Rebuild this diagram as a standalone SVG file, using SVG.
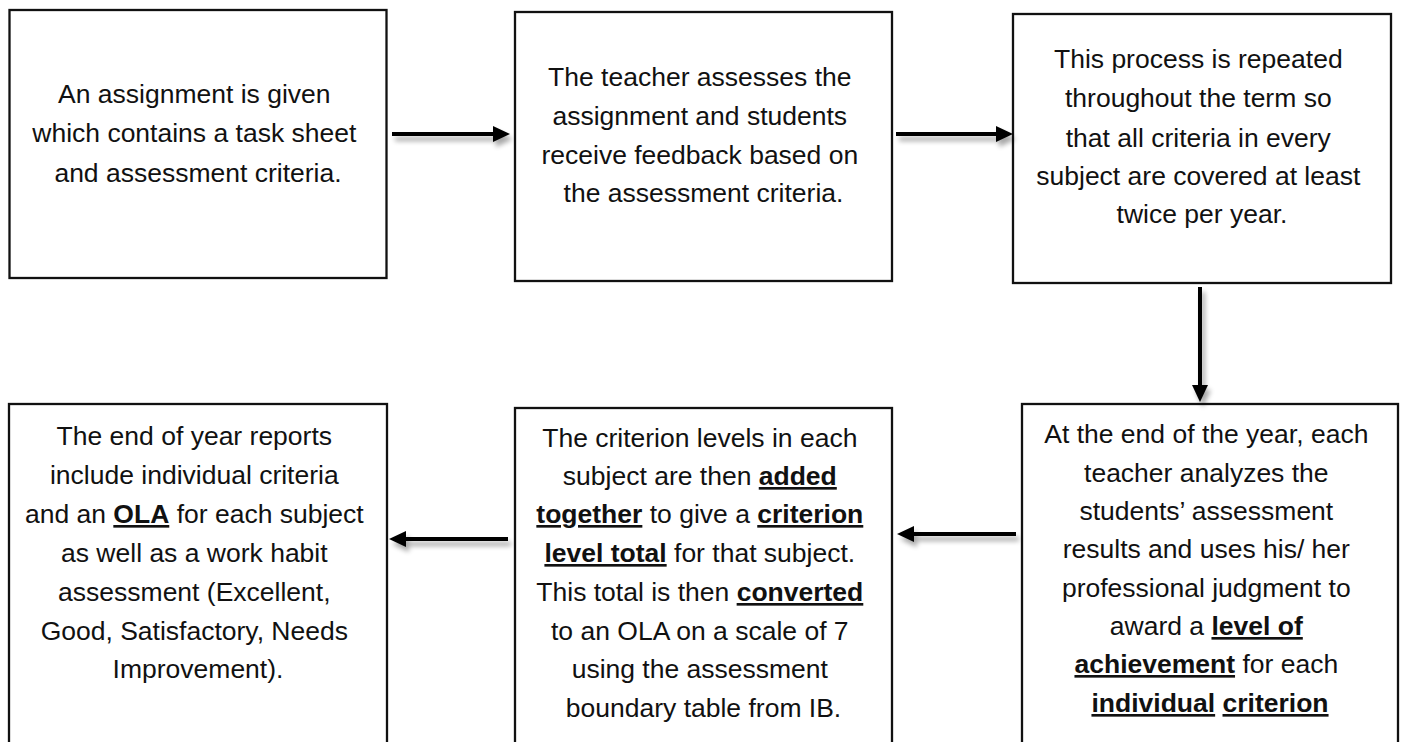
<svg xmlns="http://www.w3.org/2000/svg" width="1403" height="742" viewBox="0 0 1403 742">
  <style>
    .box { fill: #ffffff; stroke: #111111; stroke-width: 2.3; }
    .lbl { font-family: "Liberation Sans", Arial, sans-serif; font-size: 26.5px; fill: #111111; text-anchor: middle; }
    .em { font-weight: bold; text-decoration: underline; }
    .conn { fill: none; stroke: #000000; stroke-width: 4; }
  </style>
  <defs>
    <marker id="head" viewBox="0 0 17 16" refX="0" refY="8" markerWidth="17" markerHeight="16" markerUnits="userSpaceOnUse" orient="auto">
      <path d="M0,0 L17,8 L0,16 z" fill="#000000"/>
    </marker>
    <filter id="shadow" x="-20%" y="-50%" width="140%" height="300%">
      <feGaussianBlur in="SourceAlpha" stdDeviation="2.5" result="b"/>
      <feOffset in="b" dx="3" dy="5" result="o"/>
      <feComponentTransfer in="o" result="s">
        <feFuncA type="linear" slope="0.35"/>
      </feComponentTransfer>
      <feMerge>
        <feMergeNode in="s"/>
        <feMergeNode in="SourceGraphic"/>
      </feMerge>
    </filter>
  </defs>

  <rect width="1403" height="742" fill="#ffffff"/>

  <!-- step 1 -->
  <g id="assignment-given">
    <rect class="box" x="9.5" y="10" width="377" height="268"/>
    <text class="lbl">
      <tspan x="198" y="103">An assignment is given</tspan>
      <tspan x="198" y="142">which contains a task sheet</tspan>
      <tspan x="198" y="182">and assessment criteria.</tspan>
    </text>
  </g>

  <!-- step 2 -->
  <g id="teacher-assesses">
    <rect class="box" x="515" y="12" width="377" height="269"/>
    <text class="lbl">
      <tspan x="703.5" y="86">The teacher assesses the</tspan>
      <tspan x="703.5" y="125">assignment and students</tspan>
      <tspan x="703.5" y="164">receive feedback based on</tspan>
      <tspan x="703.5" y="202">the assessment criteria.</tspan>
    </text>
  </g>

  <!-- step 3 -->
  <g id="process-repeated">
    <rect class="box" x="1013" y="14" width="378" height="269"/>
    <text class="lbl">
      <tspan x="1202" y="68">This process is repeated</tspan>
      <tspan x="1202" y="107">throughout the term so</tspan>
      <tspan x="1202" y="147">that all criteria in every</tspan>
      <tspan x="1202" y="185">subject are covered at least</tspan>
      <tspan x="1202" y="223">twice per year.</tspan>
    </text>
  </g>

  <!-- step 4 -->
  <g id="end-of-year-judgment">
    <rect class="box" x="1022" y="404" width="376" height="360"/>
    <text class="lbl">
      <tspan x="1210" y="443">At the end of the year, each</tspan>
      <tspan x="1210" y="482">teacher analyzes the</tspan>
      <tspan x="1210" y="520">students’ assessment</tspan>
      <tspan x="1210" y="558">results and uses his/ her</tspan>
      <tspan x="1210" y="597">professional judgment to</tspan>
      <tspan x="1210" y="635">award a <tspan class="em">level of</tspan></tspan>
      <tspan x="1210" y="673"><tspan class="em">achievement</tspan> for each</tspan>
      <tspan x="1210" y="712"><tspan class="em">individual</tspan> <tspan class="em">criterion</tspan></tspan>
    </text>
  </g>

  <!-- step 5 -->
  <g id="criterion-total">
    <rect class="box" x="515" y="408" width="377" height="360"/>
    <text class="lbl">
      <tspan x="703.5" y="447">The criterion levels in each</tspan>
      <tspan x="703.5" y="485">subject are then <tspan class="em">added</tspan></tspan>
      <tspan x="703.5" y="523"><tspan class="em">together</tspan> to give a <tspan class="em">criterion</tspan></tspan>
      <tspan x="703.5" y="562"><tspan class="em">level total</tspan> for that subject.</tspan>
      <tspan x="703.5" y="601">This total is then <tspan class="em">converted</tspan></tspan>
      <tspan x="703.5" y="640">to an OLA on a scale of 7</tspan>
      <tspan x="703.5" y="678">using the assessment</tspan>
      <tspan x="703.5" y="717">boundary table from IB.</tspan>
    </text>
  </g>

  <!-- step 6 -->
  <g id="end-of-year-reports">
    <rect class="box" x="9" y="404" width="378" height="360"/>
    <text class="lbl">
      <tspan x="198" y="445">The end of year reports</tspan>
      <tspan x="198" y="484">include individual criteria</tspan>
      <tspan x="198" y="523">and an <tspan class="em">OLA</tspan> for each subject</tspan>
      <tspan x="198" y="562">as well as a work habit</tspan>
      <tspan x="198" y="601">assessment (Excellent,</tspan>
      <tspan x="198" y="640">Good, Satisfactory, Needs</tspan>
      <tspan x="198" y="678">Improvement).</tspan>
    </text>
  </g>

  <!-- connectors -->
  <g id="connectors" class="conn" filter="url(#shadow)">
    <path d="M392,134 H493" marker-end="url(#head)"/>
    <path d="M896,134 H996" marker-end="url(#head)"/>
    <path d="M1200,287 V385" marker-end="url(#head)"/>
    <path d="M1016,534 H914" marker-end="url(#head)"/>
    <path d="M508,539 H406" marker-end="url(#head)"/>
  </g>
</svg>
